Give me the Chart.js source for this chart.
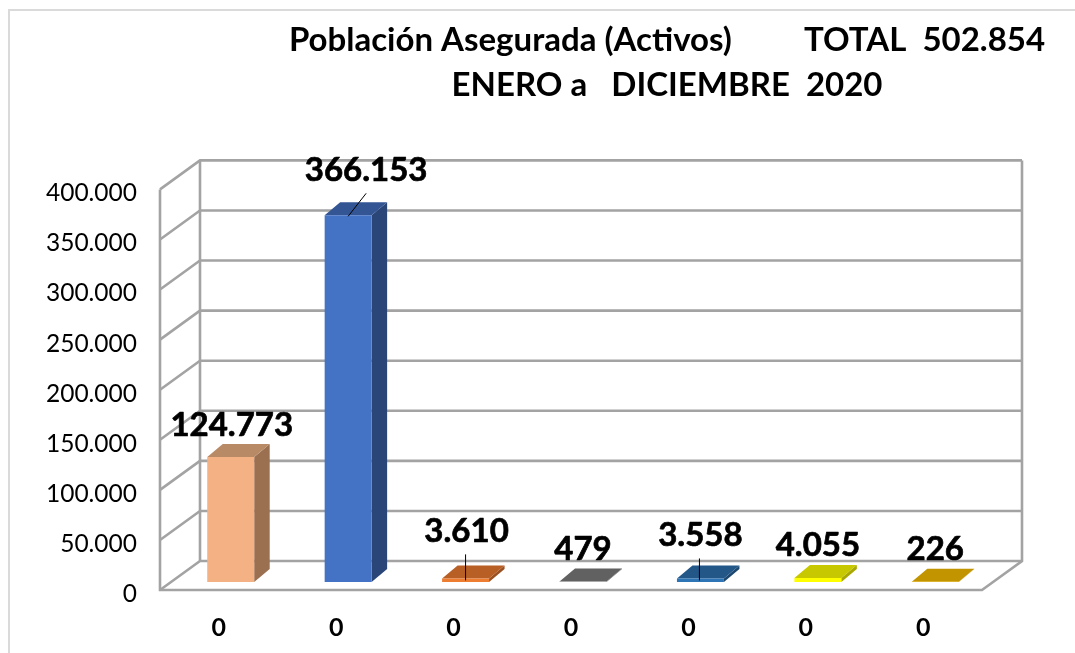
<!DOCTYPE html>
<html><head><meta charset="utf-8">
<style>html,body{margin:0;padding:0;background:#fff}#w{position:relative;width:1075px;height:653px}canvas{display:block}</style>
<script src="https://cdn.jsdelivr.net/npm/chart.js@4/dist/chart.umd.min.js"></script>
</head><body><div id="w"><canvas id="c" width="1075" height="653"></canvas></div>
<script>
const categories = ["0","0","0","0","0","0","0"];
const values = [124773,366153,3610,479,3558,4055,226];
const valueLabels = ["124.773","366.153","3.610","479","3.558","4.055","226"];
const titleLines = ["Población Asegurada (Activos)         TOTAL  502.854","ENERO a   DICIEMBRE  2020"];
const frontColors = ["#F4B183","#4472C4","#ED7D31","#A5A5A5","#2E75B6","#FFFF00","#FFC000"];
const topColors = ["#B98A66","#335593","#B85F26","#616161","#225788","#C8C800","#C29400"];
const sideColors = ["#9A7050","#2A4678","#9A5020","#555555","#1C4870","#A8A800","#A07C00"];
// label centre offset from the bar's top-centre, and whether a leader line is drawn
const labelShift = [[1,-32],[18,-45],[1,-47],[0,-32],[0,-43],[0,-33],[0,-32]];
const leaders = [null,[[18,-22],[0,1]],[[0,-24],[0,2]],null,[[-1,-20],[-1,2]],null,null];

const WALL={dx:40,dy:-29}, BAR={ox:12,oy:-8,dx:15.5,dy:-13};
const GRID='#A3A3A3';
const font='Lato, Carlito, Calibri, sans-serif';

const threeD={
  id:'threeD',
  afterLayout(chart){
    chart.titleBlock.left=259; chart.titleBlock.right=1075;
    const y=chart.scales.y, draw=y.drawLabels;
    if(!y._shifted){
      y._shifted=true;
      y.drawLabels=function(a){chart.ctx.save();chart.ctx.translate(1,4);draw.call(this,a);chart.ctx.restore();};
    }
  },
  beforeDatasetsDraw(chart){
    const {ctx,chartArea:a,scales:{y}}=chart;
    ctx.save();
    // outer frame
    ctx.strokeStyle='#DADADA';ctx.lineWidth=2;
    ctx.beginPath();ctx.moveTo(9,653);ctx.lineTo(9,10);ctx.lineTo(1075,10);ctx.stroke();
    ctx.strokeStyle=GRID;ctx.lineWidth=2.6;
    const y0=y.getPixelForValue(0), yTop=y.getPixelForValue(y.max);
    y.ticks.forEach(t=>{
      const p=y.getPixelForValue(t.value);
      ctx.beginPath();ctx.moveTo(a.left,p);ctx.lineTo(a.left+WALL.dx,p+WALL.dy);
      ctx.lineTo(a.right+WALL.dx,p+WALL.dy);ctx.stroke();
    });
    ctx.beginPath();
    ctx.moveTo(a.left,yTop);ctx.lineTo(a.left,y0);ctx.lineTo(a.right,y0);ctx.lineTo(a.right+WALL.dx,y0+WALL.dy);
    ctx.lineTo(a.right+WALL.dx,yTop+WALL.dy);
    ctx.moveTo(a.left+WALL.dx,yTop+WALL.dy);ctx.lineTo(a.left+WALL.dx,y0+WALL.dy);
    ctx.stroke();
    ctx.restore();
    // bar depth faces, then shift the library's front faces into the floor
    const meta=chart.getDatasetMeta(0);
    ctx.save();ctx.translate(BAR.ox,BAR.oy);
    meta.data.forEach((b,i)=>{
      const p=b.getProps(['x','y','base','width']);
      const l=p.x-p.width/2,r=p.x+p.width/2;
      ctx.fillStyle=sideColors[i];
      ctx.beginPath();ctx.moveTo(r,p.y);ctx.lineTo(r+BAR.dx,p.y+BAR.dy);ctx.lineTo(r+BAR.dx,p.base+BAR.dy);ctx.lineTo(r,p.base);ctx.closePath();ctx.fill();
      ctx.fillStyle=topColors[i];
      ctx.beginPath();ctx.moveTo(l,p.y);ctx.lineTo(l+BAR.dx,p.y+BAR.dy);ctx.lineTo(r+BAR.dx,p.y+BAR.dy);ctx.lineTo(r,p.y);ctx.closePath();ctx.fill();
    });
    ctx.restore();
  },
  beforeDatasetDraw(chart){chart.ctx.save();chart.ctx.translate(BAR.ox,BAR.oy);},
  afterDatasetDraw(chart){chart.ctx.restore();},
  afterDatasetsDraw(chart){
    const {ctx}=chart;
    const meta=chart.getDatasetMeta(0);
    ctx.save();
    ctx.fillStyle='#000';ctx.strokeStyle='#000';ctx.textAlign='center';ctx.textBaseline='middle';
    ctx.font='bold 33px '+font;ctx.lineJoin='round';
    meta.data.forEach((b,i)=>{
      const x=b.x+BAR.ox,yy=b.y+BAR.oy;
      ctx.lineWidth=0.7;
      ctx.fillText(valueLabels[i],x+labelShift[i][0],yy+labelShift[i][1]);
      ctx.strokeText(valueLabels[i],x+labelShift[i][0],yy+labelShift[i][1]);
      if(leaders[i]){
        ctx.lineWidth=1;ctx.beginPath();
        ctx.moveTo(x+leaders[i][0][0],yy+leaders[i][0][1]);ctx.lineTo(x+leaders[i][1][0],yy+leaders[i][1][1]);ctx.stroke();
      }
    });
    ctx.restore();
  }
};

new Chart(document.getElementById('c'),{
  type:'bar',
  data:{labels:categories,datasets:[{data:values,backgroundColor:frontColors,borderWidth:0,categoryPercentage:1,barPercentage:0.4}]},
  options:{
    responsive:false,animation:false,
    layout:{padding:{left:0,right:93,top:0,bottom:0}},
    plugins:{
      legend:{display:false},tooltip:{enabled:false},
      title:{display:true,text:titleLines,color:'#000',font:{family:font,size:33,weight:'bold',lineHeight:1.37},padding:{top:18,bottom:81}}
    },
    scales:{
      x:{grid:{display:false},border:{display:false},
        afterFit(s){s.height=63;},
        ticks:{color:'#000',padding:15,maxRotation:0,autoSkip:false,font:{family:font,size:25,weight:'bold'}}},
      y:{min:0,max:400000,grid:{display:false,drawTicks:false},border:{display:false},
        afterFit(s){s.width=160;},
        ticks:{stepSize:50000,color:'#000',padding:24,font:{family:font,size:24.5},
          callback:v=>v===0?'0':(v/1000).toFixed(0)+'.000'}}
    }
  },
  plugins:[threeD]
});
</script></body></html>
